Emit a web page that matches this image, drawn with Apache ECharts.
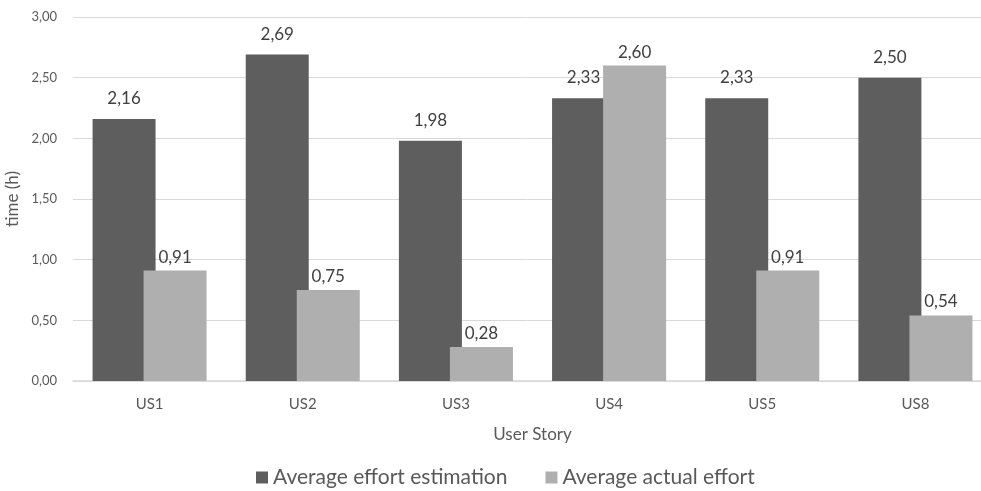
<!DOCTYPE html>
<html><head><meta charset="utf-8">
<script src="https://cdn.jsdelivr.net/npm/echarts@6/dist/echarts.min.js"></script>
<style>html,body{margin:0;padding:0;background:#fff}#c{width:981px;height:491px}</style>
</head><body><div id="c"></div>
<script>
const categories = ['US1','US2','US3','US4','US5','US8'];
const estimation = [2.16, 2.69, 1.98, 2.33, 2.33, 2.50];
const actual = [0.91, 0.75, 0.28, 2.60, 0.91, 0.54];
const seriesNames = ['Average effort estimation', 'Average actual effort'];
const fmt = v => v.toFixed(2).replace('.', ',');
const font = 'Lato, "Open Sans", sans-serif';
const chart = echarts.init(document.getElementById('c'), null, {renderer:'canvas'});
chart.setOption({
  animation:false,
  textStyle:{fontFamily:font},
  grid:{left:73, top:17, width:919, height:364, containLabel:false, outerBoundsMode:'none'},
  legend:{
    data:seriesNames, top:462, left:251, itemWidth:12, itemHeight:12, itemGap:38,
    icon:'rect', textStyle:{fontSize:21, color:'#595959', fontFamily:font}
  },
  xAxis:{
    type:'category', data:categories,
    name:'User Story', nameLocation:'middle', nameGap:45,
    nameTextStyle:{fontSize:17, color:'#595959'},
    axisLine:{lineStyle:{color:'#d9d9d9', width:1.5}},
    axisTick:{show:false},
    axisLabel:{fontSize:15, color:'#595959', margin:16}
  },
  yAxis:{
    type:'value', min:0, max:3, interval:0.5,
    name:'time (h)', nameLocation:'middle', nameGap:44,
    nameTextStyle:{fontSize:17, color:'#595959'},
    axisLine:{show:false}, axisTick:{show:false},
    splitLine:{lineStyle:{color:'#d9d9d9'}},
    axisLabel:{fontSize:13, color:'#595959', margin:16, formatter:fmt}
  },
  series:[
    {name:seriesNames[0], type:'bar', data:estimation, barWidth:63, barGap:'-19%',
     itemStyle:{color:'#5e5e5e'},
     label:{show:true, position:'top', distance:12, fontSize:17, color:'#404040', formatter:p=>fmt(p.value)}},
    {name:seriesNames[1], type:'bar', data:actual, barWidth:63, barGap:'-19%',
     itemStyle:{color:'#afafaf'},
     label:{show:true, position:'top', distance:5, fontSize:17, color:'#404040', formatter:p=>fmt(p.value)}}
  ]
});
</script></body></html>
